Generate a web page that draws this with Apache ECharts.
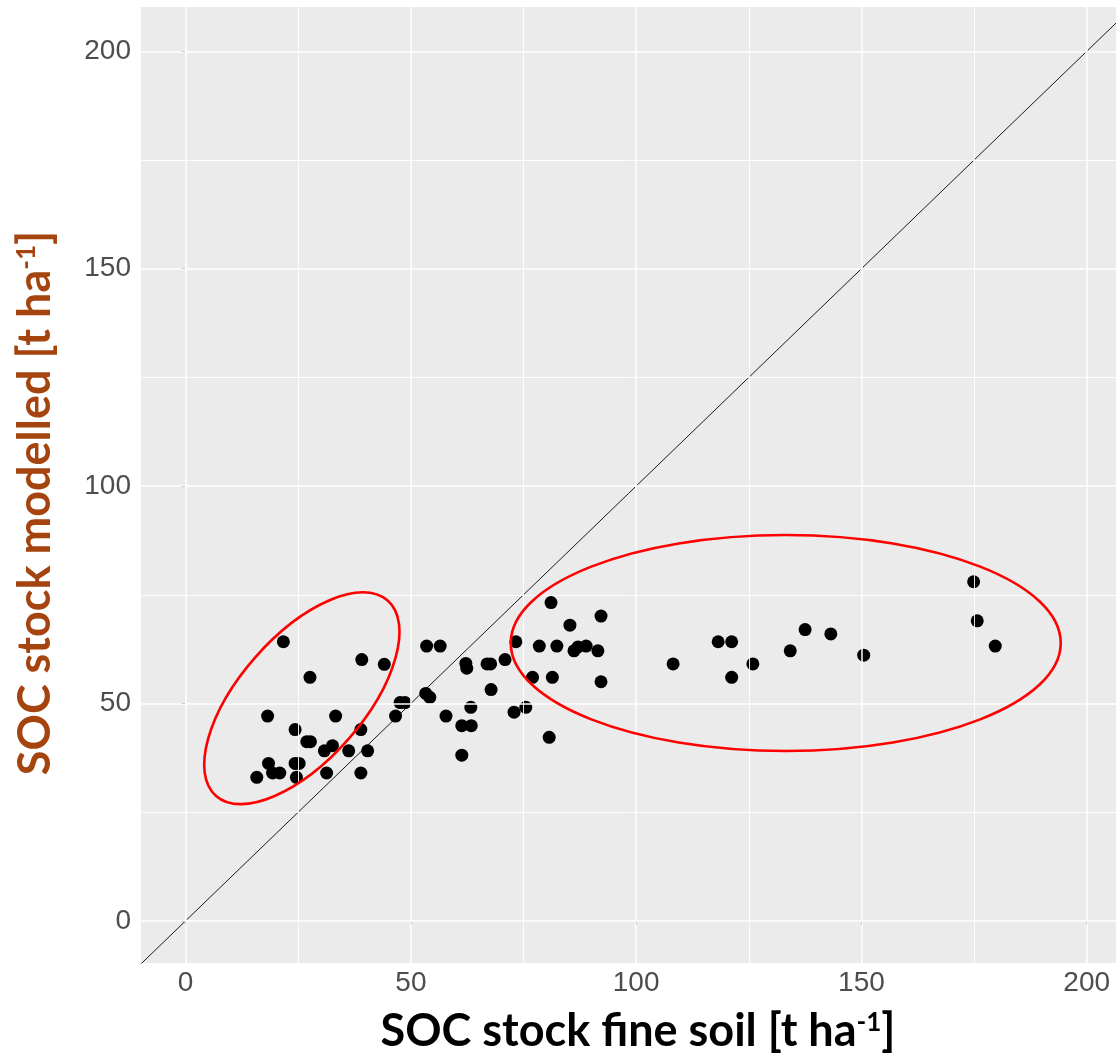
<!DOCTYPE html>
<html><head><meta charset="utf-8">
<script src="https://cdn.jsdelivr.net/npm/echarts@6/dist/echarts.min.js"></script>
<style>html,body{margin:0;padding:0;background:#fff}#c{width:1116px;height:1056px}</style>
</head><body><div id="c"></div>
<script>
// ---- data ----
const fineSoil = [21.7,39.1,44.1,27.6,18.2,33.3,47.6,48.7,46.6,24.3,38.9,26.9,27.7,30.8,32.6,36.2,40.4,18.4,24.3,25.2,15.8,19.3,20.9,24.6,31.3,38.9,
  53.5,56.5,53.3,54.2,62.2,62.4,66.9,67.7,70.9,73.3,67.8,57.8,63.3,61.3,63.4,61.3,72.9,75.5,80.7,77.0,81.4,78.5,82.4,81.1,85.3,86.2,87.1,88.9,91.5,92.2,92.2,
  108.2,118.2,121.2,121.2,125.9,134.2,137.5,143.2,150.5,174.9,175.7,179.7];
const modelled = [64.2,60.1,59.0,56.0,47.1,47.1,50.2,50.2,47.1,44.0,44.0,41.2,41.2,39.1,40.3,39.1,39.1,36.2,36.2,36.2,33.0,34.0,34.0,33.0,34.0,34.0,
  63.2,63.2,52.3,51.4,59.2,58.1,59.1,59.1,60.1,64.2,53.2,47.1,49.1,44.9,44.9,38.1,48.0,49.1,42.2,56.0,56.0,63.2,63.2,73.2,68.0,62.1,63.0,63.2,62.1,70.1,55.0,
  59.1,64.2,64.2,56.0,59.1,62.1,67.0,66.0,61.1,78.0,69.0,63.2];
const xTicks = [0, 50, 100, 150, 200];
const yTicks = [0, 50, 100, 150, 200];
const minorBreaks = [25, 75, 125, 175];
const identityLine = [[-20, -20], [230, 230]];   // 1:1 line y = x
const xTitle = 'SOC stock fine soil';
const yTitle = 'SOC stock modelled';
const unitText = '[t ha';
const unitSup = '-1';

// annotation ellipses: centre in data units
const ellipseCentres = [[25.8, 51.2], [133.2, 63.9]];

// ---- chart ----
const xMin = -9.9, xMax = 206.5, yMin = -9.7, yMax = 210.2;
const points = fineSoil.map((x, i) => [x, modelled[i]]);

const gridLines = [];
xTicks.forEach(v => gridLines.push({xAxis: v, lineStyle: {width: 1.5}}));
minorBreaks.forEach(v => gridLines.push({xAxis: v, lineStyle: {width: 0.9}}));
yTicks.forEach(v => gridLines.push({yAxis: v, lineStyle: {width: 1.5}}));
minorBreaks.forEach(v => gridLines.push({yAxis: v, lineStyle: {width: 0.9}}));

const chart = echarts.init(document.getElementById('c'), null, {renderer: 'canvas'});
const tickLabel = {fontFamily: 'Liberation Sans, Arial, sans-serif', fontSize: 28, color: '#4D4D4D'};

chart.setOption({
  animation: false,
  backgroundColor: '#ffffff',
  grid: {left: 141, top: 7, right: 0, bottom: 93, show: true, backgroundColor: '#EBEBEB', borderWidth: 0, outerBoundsMode: 'none'},
  xAxis: {
    type: 'value', min: xMin, max: xMax,
    axisLine: {show: false},
    axisTick: {show: true, length: 4, lineStyle: {color: '#333333', width: 1}, customValues: xTicks},
    axisLabel: Object.assign({margin: 6, customValues: xTicks}, tickLabel),
    splitLine: {show: false}, minorSplitLine: {show: false}
  },
  yAxis: {
    type: 'value', min: yMin, max: yMax,
    axisLine: {show: false},
    axisTick: {show: true, length: 4, lineStyle: {color: '#333333', width: 1}, customValues: yTicks},
    axisLabel: Object.assign({margin: 10, customValues: yTicks}, tickLabel),
    splitLine: {show: false}, minorSplitLine: {show: false}
  },
  series: [
    {
      type: 'line', data: [], z: 1, silent: true,
      markLine: {silent: true, symbol: ['none', 'none'], label: {show: false}, animation: false,
        lineStyle: {color: '#ffffff', type: 'solid'}, emphasis: {disabled: true}, data: gridLines}
    },
    {
      type: 'line', data: identityLine, z: 2, silent: true, symbol: 'none', clip: true,
      lineStyle: {color: '#1a1a1a', width: 1}
    },
    {
      type: 'scatter', data: points, z: 3, symbol: 'circle', symbolSize: 13,
      itemStyle: {color: '#000000', opacity: 1}
    }
  ]
});

const c1 = chart.convertToPixel({gridIndex: 0}, ellipseCentres[0]);
const c2 = chart.convertToPixel({gridIndex: 0}, ellipseCentres[1]);
const richMain = (col) => ({
  a: {fill: col, fontFamily: 'Lato', fontWeight: 'bold', fontSize: 45},
  s: {fill: col, fontFamily: 'Lato', fontWeight: 'bold', fontSize: 26, verticalAlign: 'top', padding: [1, 0, 0, 0]}
});
chart.setOption({
  graphic: [
    {type: 'ellipse', x: c1[0], y: c1[1], rotation: 48.7 * Math.PI / 180, z: 10, silent: true,
      shape: {cx: 0, cy: 0, rx: 130, ry: 62}, style: {fill: 'none', stroke: '#FF0000', lineWidth: 2.6}},
    {type: 'ellipse', x: c2[0], y: c2[1], z: 10, silent: true,
      shape: {cx: 0, cy: 0, rx: 275, ry: 108}, style: {fill: 'none', stroke: '#FF0000', lineWidth: 2.6}},
    {type: 'text', x: 638, y: 1031, z: 10, silent: true,
      style: {text: '{a|' + xTitle + ' ' + unitText + '}{s|' + unitSup + '}{a|]}', align: 'center', verticalAlign: 'middle',
        rich: richMain('#000000')}},
    {type: 'text', x: 35, y: 503, rotation: Math.PI / 2, z: 10, silent: true,
      style: {text: '{a|' + yTitle + ' ' + unitText + '}{s|' + unitSup + '}{a|]}', align: 'center', verticalAlign: 'middle',
        rich: richMain('#A5440F')}}
  ]
});
</script>
</body></html>
